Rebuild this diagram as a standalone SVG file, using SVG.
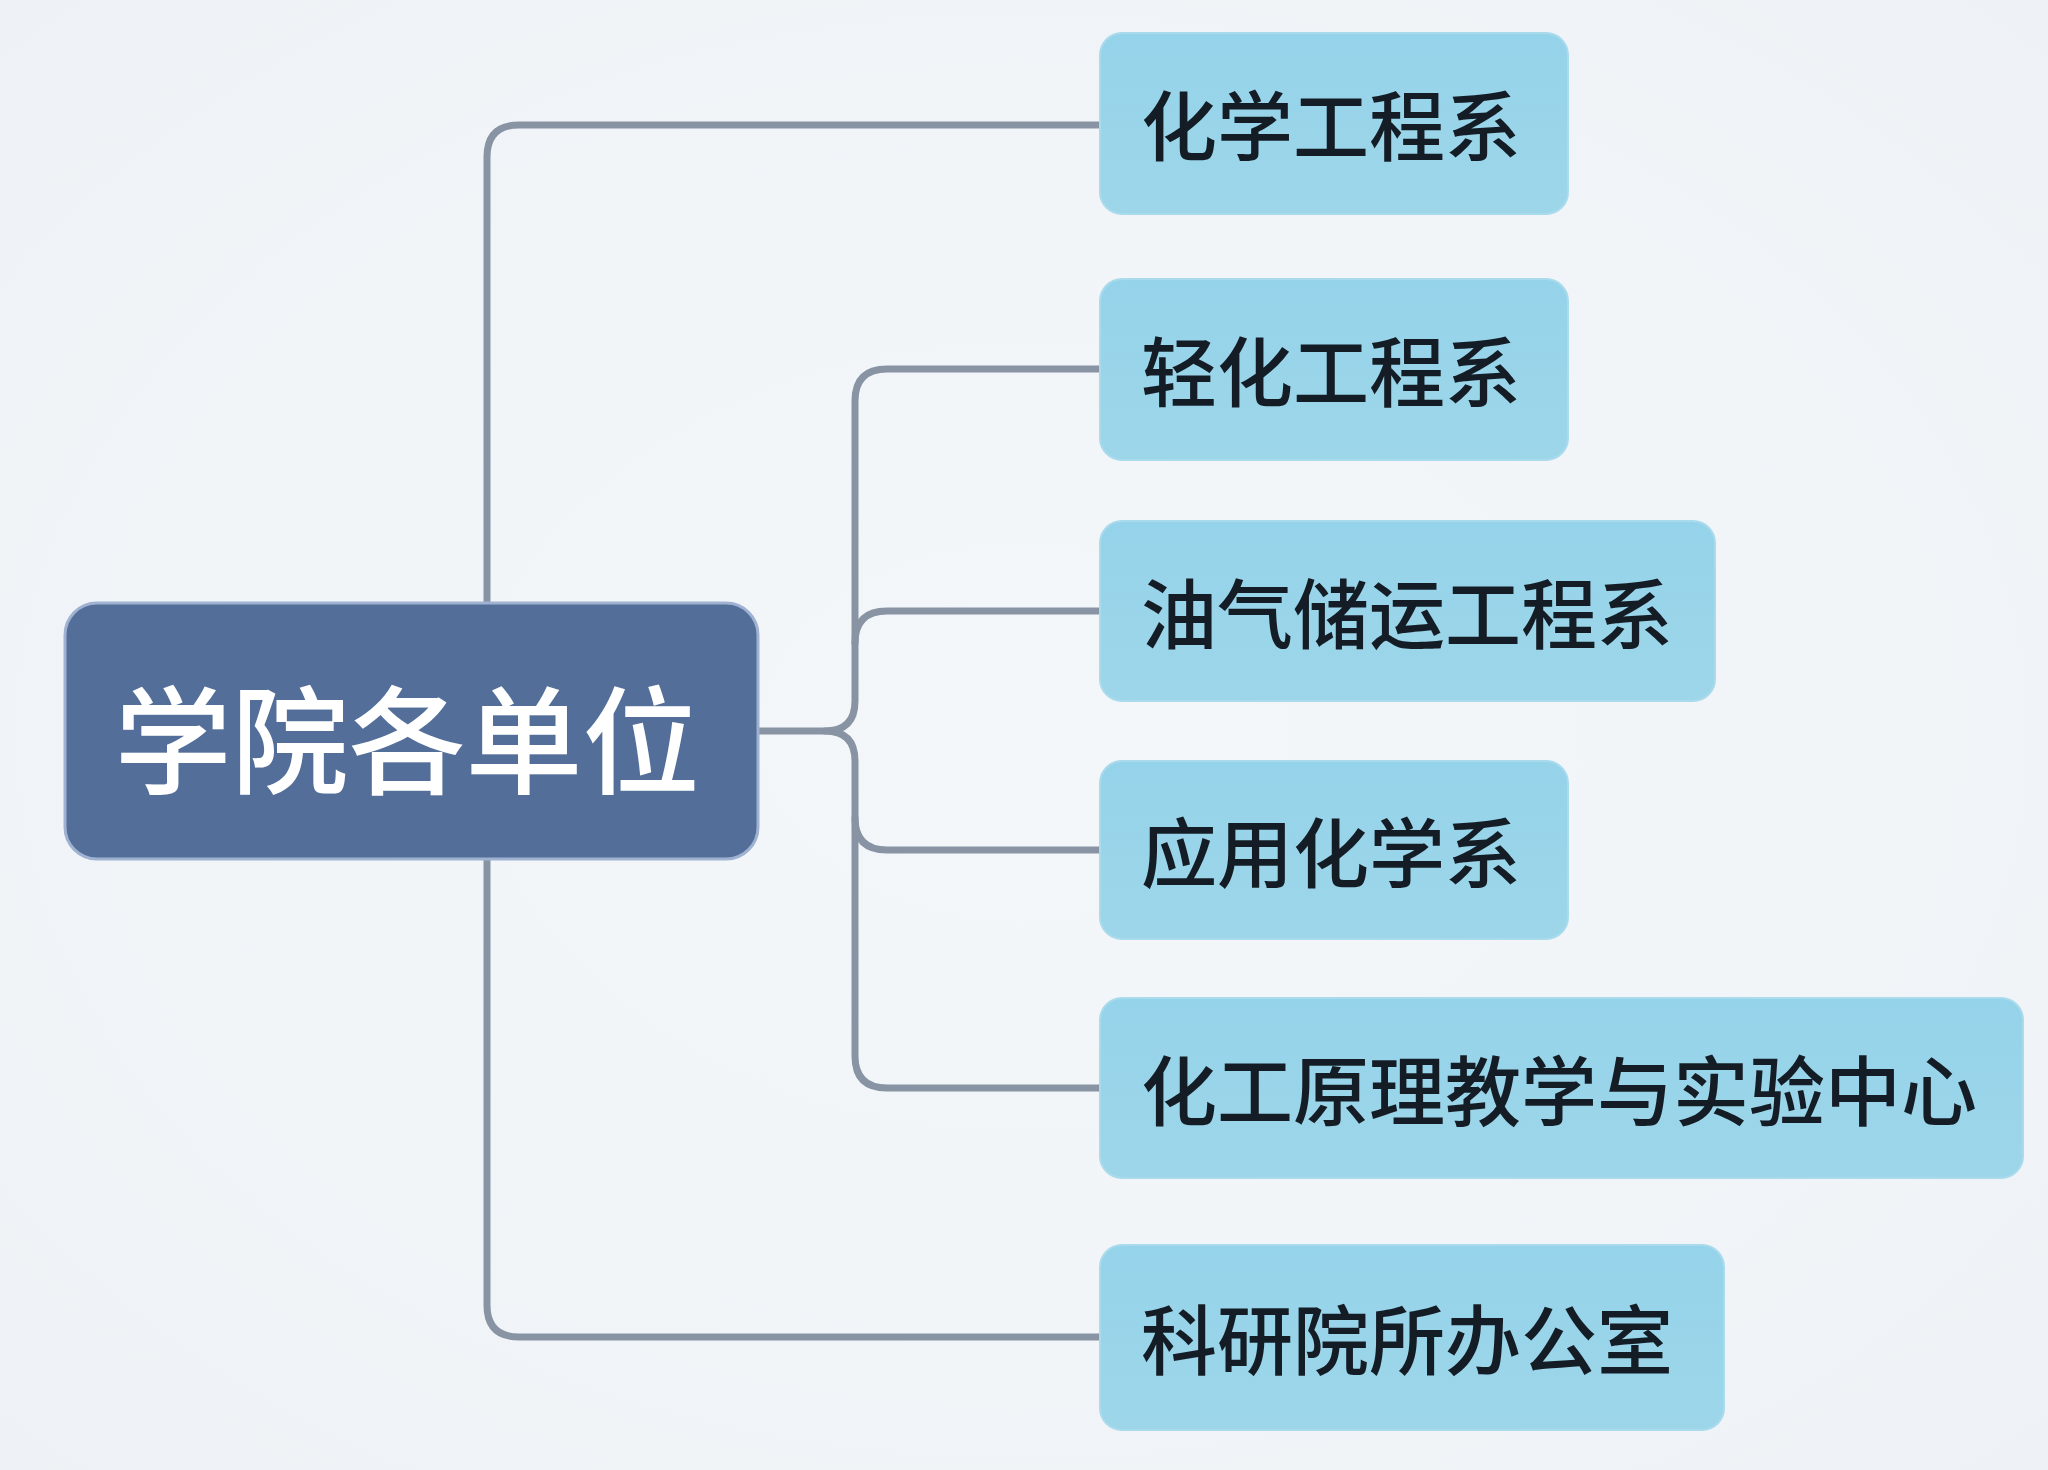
<svg xmlns="http://www.w3.org/2000/svg" width="2048" height="1470" viewBox="0 0 2048 1470">
  <defs>
    <radialGradient id="bg" cx="50%" cy="50%" r="75%">
      <stop offset="0" stop-color="#f4f7fa"/>
      <stop offset="1" stop-color="#eef2f6"/>
    </radialGradient>
    <linearGradient id="child" x1="0" y1="0" x2="0" y2="1">
      <stop offset="0" stop-color="#95d3ea"/>
      <stop offset="1" stop-color="#9dd6e9"/>
    </linearGradient>
    <style>
      .conn { fill: none; stroke: #8893a3; stroke-width: 7; stroke-linecap: round; }
      .root rect { fill: #536e99; stroke: #9fb2d2; stroke-width: 3; }
      .root text { fill: #ffffff; font-family: "Noto Sans CJK SC", "Noto Sans", sans-serif; font-size: 117px; font-weight: 500; text-anchor: middle; dominant-baseline: central; }
      .child rect { fill: url(#child); stroke: #a9dbec; stroke-width: 2; }
      .child text { fill: #141c25; font-family: "Noto Sans CJK SC", "Noto Sans", sans-serif; font-size: 76px; font-weight: 500; dominant-baseline: central; }
    </style>
  </defs>
  <rect x="0" y="0" width="2048" height="1470" fill="url(#bg)"/>

  <g id="connectors">
    <path class="conn" d="M 487 603 V 157 Q 487 125 519 125 H 1100"/>
    <path class="conn" d="M 487 859 V 1305 Q 487 1337 519 1337 H 1100"/>
    <path class="conn" d="M 758 731 H 825 Q 855 731 855 701 V 401 Q 855 369 887 369 H 1100"/>
    <path class="conn" d="M 825 731 Q 855 731 855 761 V 1056 Q 855 1088 887 1088 H 1100"/>
    <path class="conn" d="M 855 643 Q 855 611 887 611 H 1100"/>
    <path class="conn" d="M 855 818 Q 855 850 887 850 H 1100"/>
  </g>

  <g id="root" class="root">
    <rect x="65" y="603" width="693" height="256" rx="32"/>
    <text x="407" y="734">学院各单位</text>
  </g>

  <g id="n1" class="child">
    <rect x="1100" y="33" width="468" height="181" rx="22"/>
    <text x="1141" y="122">化学工程系</text>
  </g>
  <g id="n2" class="child">
    <rect x="1100" y="279" width="468" height="181" rx="22"/>
    <text x="1141" y="368">轻化工程系</text>
  </g>
  <g id="n3" class="child">
    <rect x="1100" y="521" width="615" height="180" rx="22"/>
    <text x="1141" y="610">油气储运工程系</text>
  </g>
  <g id="n4" class="child">
    <rect x="1100" y="761" width="468" height="178" rx="22"/>
    <text x="1141" y="849">应用化学系</text>
  </g>
  <g id="n5" class="child">
    <rect x="1100" y="998" width="923" height="180" rx="22"/>
    <text x="1141" y="1087">化工原理教学与实验中心</text>
  </g>
  <g id="n6" class="child">
    <rect x="1100" y="1245" width="624" height="185" rx="22"/>
    <text x="1141" y="1336">科研院所办公室</text>
  </g>
</svg>
